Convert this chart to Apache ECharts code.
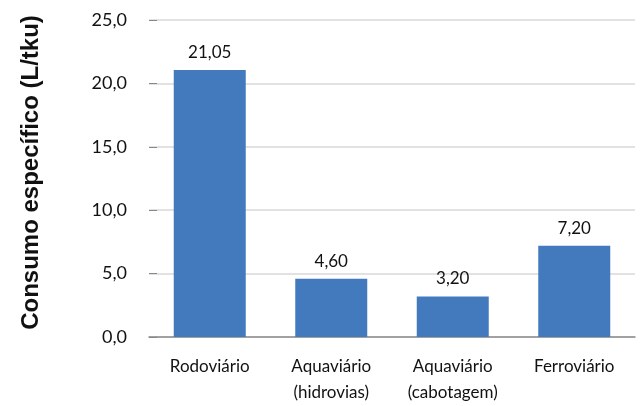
<!DOCTYPE html>
<html lang="pt">
<head>
    <meta charset="UTF-8">
    <title>Consumo específico</title>
    <script src="https://cdn.jsdelivr.net/npm/echarts@6/dist/echarts.min.js"></script>
    <style>
        html, body { margin: 0; padding: 0; background: #fff; }
    </style>
</head>
<body>
<div id="chart" style="width:643px; height:406px"></div>
<script type="text/javascript">
    // dados do gráfico
    var categorias = ['Rodoviário', 'Aquaviário\n(hidrovias)', 'Aquaviário\n(cabotagem)', 'Ferroviário'];
    var consumo = [21.05, 4.60, 3.20, 7.20];
    var eixoY = { min: 0, max: 25, intervalo: 5 };

    function virgula(v, casas) {
        return v.toFixed(casas).replace('.', ',');
    }

    var myChart = echarts.init(document.getElementById('chart'));
    myChart.setOption({
        backgroundColor: '#fff',
        animation: false,
        grid: { left: 149, right: 8, top: 20, bottom: 69 },
        xAxis: {
            type: 'category',
            data: categorias,
            axisTick: { show: false },
            axisLine: { lineStyle: { color: '#8c8c8c', width: 1.5 } },
            axisLabel: {
                color: '#111',
                fontFamily: 'Lato',
                fontSize: 17,
                lineHeight: 26,
                margin: 17
            }
        },
        yAxis: {
            type: 'value',
            min: eixoY.min,
            max: eixoY.max,
            interval: eixoY.intervalo,
            name: 'Consumo específico (L/tku)',
            nameLocation: 'middle',
            nameGap: 106,
            nameTextStyle: {
                fontFamily: 'Liberation Sans',
                fontWeight: 'bold',
                fontSize: 24,
                color: '#111',
                padding: [0, 0, 0, 12]
            },
            axisLine: { show: false },
            axisTick: { show: true, inside: true, length: 8, lineStyle: { color: '#888' } },
            splitLine: { lineStyle: { color: '#d9d9d9', width: 1.5 } },
            axisLabel: {
                color: '#111',
                fontFamily: 'Lato',
                fontSize: 18,
                margin: 22,
                formatter: function (v) { return virgula(v, 1); }
            }
        },
        series: [{
            type: 'bar',
            data: consumo,
            barWidth: 72,
            itemStyle: { color: '#437abe' },
            label: {
                show: true,
                position: 'top',
                distance: 9,
                color: '#111',
                fontFamily: 'Lato',
                fontSize: 17,
                formatter: function (p) { return virgula(p.value, 2); }
            }
        }]
    });
</script>
</body>
</html>
